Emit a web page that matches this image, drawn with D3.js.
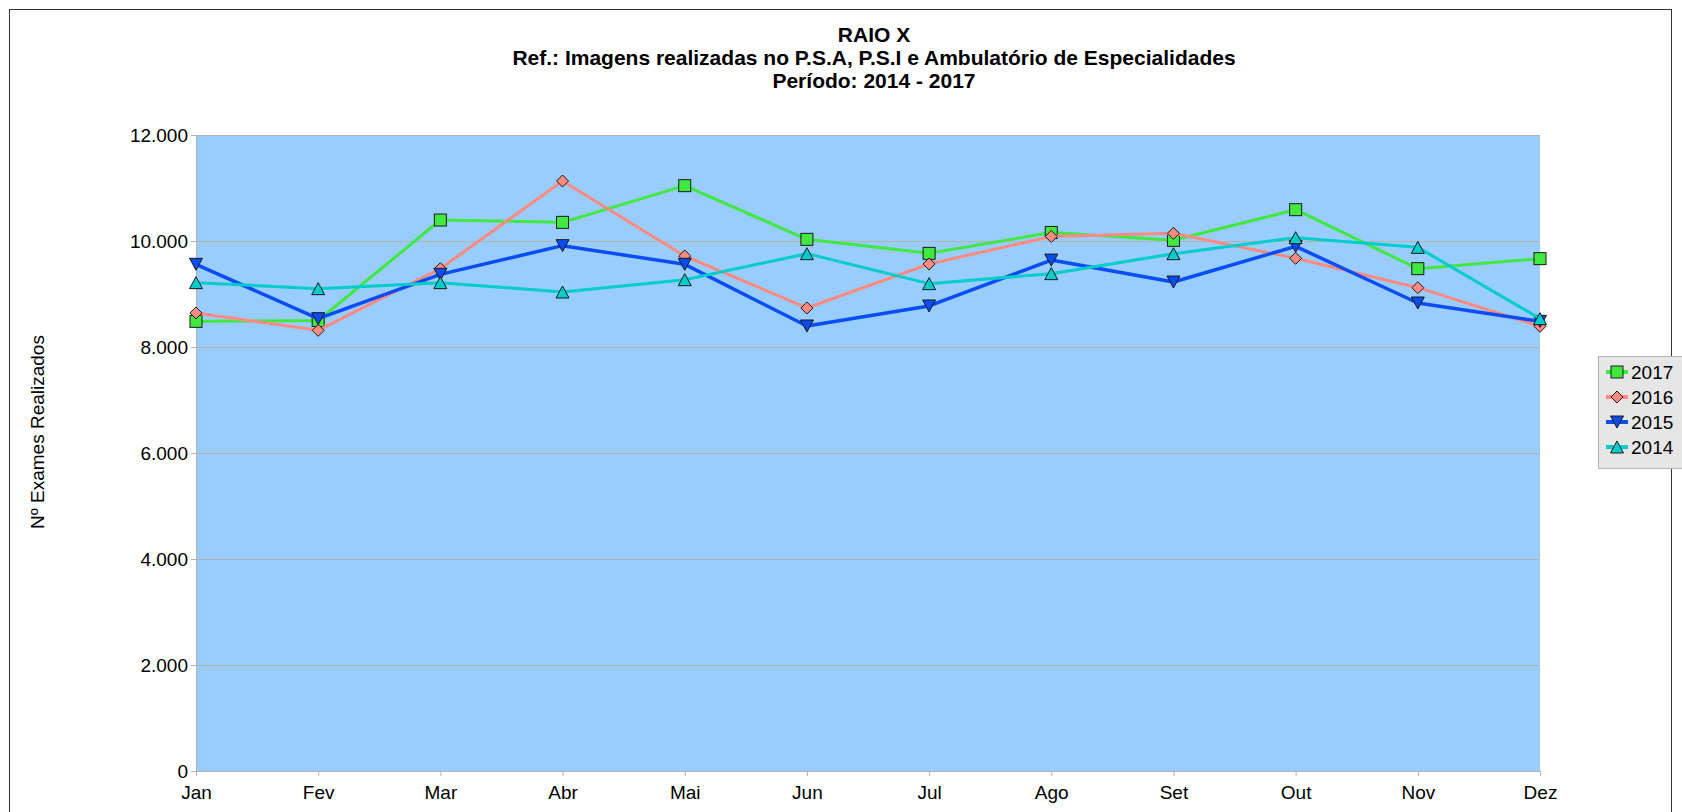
<!DOCTYPE html>
<html>
<head>
<meta charset="utf-8">
<script src="https://cdn.jsdelivr.net/npm/d3@7"></script>
<style>
  html, body { margin: 0; padding: 0; background: #fff; }
  svg { display: block; font-family: "Liberation Sans", Arial, sans-serif; }
</style>
</head>
<body>
<svg id="chart" width="1682" height="812"></svg>
<script>
const months = ["Jan","Fev","Mar","Abr","Mai","Jun","Jul","Ago","Set","Out","Nov","Dez"];
const seriesNames = ["2017","2016","2015","2014"];
const values2017 = [8484, 8500, 10396, 10352, 11044, 10031, 9767, 10160, 10013, 10591, 9478, 9667];
const values2016 = [8642, 8314, 9478, 11132, 9717, 8736, 9566, 10085, 10145, 9673, 9119, 8390];
const values2015 = [9560, 8535, 9371, 9912, 9560, 8396, 8774, 9640, 9226, 9899, 8830, 8484];
const values2014 = [9214, 9101, 9214, 9038, 9270, 9761, 9195, 9384, 9761, 10063, 9880, 8535];
const yTicks = [0, 2000, 4000, 6000, 8000, 10000, 12000];
const titleLines = ["RAIO X", "Ref.: Imagens realizadas no P.S.A, P.S.I e Ambulatório de Especialidades", "Período: 2014 - 2017"];
const yTitle = "Nº Exames Realizados";

const series = [
  { name: seriesNames[0], values: values2017, color: "#40e840", symbol: "square" },
  { name: seriesNames[1], values: values2016, color: "#ff8a80", symbol: "diamond" },
  { name: seriesNames[2], values: values2015, color: "#0a4cf5", symbol: "down" },
  { name: seriesNames[3], values: values2014, color: "#00cccc", symbol: "up" }
];

const svg = d3.select("#chart");
const pLeft = 196, pRight = 1540, pTop = 135, pBottom = 771;

// outer border
svg.append("rect").attr("x", 9.5).attr("y", 9.5).attr("width", 1662).attr("height", 820)
  .attr("fill", "#fff").attr("stroke", "#333").attr("stroke-width", 1);

const x = d3.scalePoint().domain(months).range([pLeft, pRight]).padding(0);
const y = d3.scaleLinear().domain([0, 12000]).range([pBottom, pTop]);

const locale = d3.formatLocale({ decimal: ",", thousands: ".", grouping: [3], currency: ["R$", ""] });
const fmt = locale.format(",d");

// plot background
svg.append("rect").attr("x", pLeft).attr("y", pTop).attr("width", pRight - pLeft).attr("height", pBottom - pTop)
  .attr("fill", "#99ccff");

// grid lines
svg.append("g").selectAll("line").data(yTicks.filter(d => d > 0)).join("line")
  .attr("x1", pLeft).attr("x2", pRight)
  .attr("y1", d => Math.round(y(d)) + 0.5).attr("y2", d => Math.round(y(d)) + 0.5)
  .attr("stroke", "#b3b3b3").attr("stroke-width", 1);

// y axis
const yAxis = svg.append("g").attr("transform", `translate(${pLeft},0)`)
  .call(d3.axisLeft(y).tickValues(yTicks).tickFormat(fmt).tickSize(5).tickPadding(3));
yAxis.select(".domain").attr("stroke", "#b3b3b3");
yAxis.selectAll(".tick line").attr("stroke", "#b3b3b3");
yAxis.selectAll("text").attr("font-size", 19).attr("fill", "#000")
  .attr("font-family", "'Liberation Sans', Arial, sans-serif");

// x axis
const xAxis = svg.append("g").attr("transform", `translate(0,${pBottom})`)
  .call(d3.axisBottom(x).tickSize(5).tickPadding(10));
xAxis.select(".domain").attr("stroke", "#b3b3b3");
xAxis.selectAll(".tick line").attr("stroke", "#b3b3b3");
xAxis.selectAll("text").attr("font-size", 19).attr("fill", "#000")
  .attr("font-family", "'Liberation Sans', Arial, sans-serif");

// symbols
function drawSymbol(g, type, cx, cy, color) {
  if (type === "square") {
    g.append("rect").attr("x", cx - 6).attr("y", cy - 6).attr("width", 12).attr("height", 12)
      .attr("fill", color).attr("stroke", "#1a1a1a").attr("stroke-width", 1);
  } else if (type === "diamond") {
    g.append("path").attr("d", `M${cx},${cy-6}L${cx+6},${cy}L${cx},${cy+6}L${cx-6},${cy}Z`)
      .attr("fill", color).attr("stroke", "#1a1a1a").attr("stroke-width", 1);
  } else if (type === "down") {
    g.append("path").attr("d", `M${cx-6.5},${cy-6}L${cx+6.5},${cy-6}L${cx},${cy+6}Z`)
      .attr("fill", color).attr("stroke", "#1a1a1a").attr("stroke-width", 1);
  } else if (type === "up") {
    g.append("path").attr("d", `M${cx-6.5},${cy+6}L${cx+6.5},${cy+6}L${cx},${cy-6}Z`)
      .attr("fill", color).attr("stroke", "#1a1a1a").attr("stroke-width", 1);
  }
}

const line = d3.line().x((d, i) => x(months[i])).y(d => y(d));
series.forEach(s => {
  const g = svg.append("g");
  g.append("path").datum(s.values).attr("d", line).attr("fill", "none")
    .attr("stroke", s.color).attr("stroke-width", s.symbol === "down" ? 3.5 : 3)
    .attr("stroke-linejoin", "round");
  s.values.forEach((v, i) => drawSymbol(g, s.symbol, x(months[i]), y(v), s.color));
});

// title
const title = svg.append("g").attr("font-weight", "bold").attr("font-size", 21).attr("text-anchor", "middle");
titleLines.forEach((t, i) => {
  title.append("text").attr("x", 874).attr("y", 42 + i * 23).text(t);
});

// y axis title
svg.append("text").attr("transform", "translate(44,432) rotate(-90)")
  .attr("text-anchor", "middle").attr("font-size", 19).text(yTitle);

// legend
const lg = svg.append("g");
lg.append("rect").attr("x", 1598.5).attr("y", 356.5).attr("width", 100).attr("height", 112)
  .attr("fill", "#e6e6e6").attr("stroke", "#b3b3b3").attr("stroke-width", 1);
series.forEach((s, i) => {
  const cy = 372 + i * 25;
  lg.append("line").attr("x1", 1606).attr("x2", 1628).attr("y1", cy).attr("y2", cy)
    .attr("stroke", s.color).attr("stroke-width", 4);
  drawSymbol(lg, s.symbol, 1617, cy, s.color);
  lg.append("text").attr("x", 1631).attr("y", cy + 7).attr("font-size", 19).text(s.name);
});
</script>
</body>
</html>
